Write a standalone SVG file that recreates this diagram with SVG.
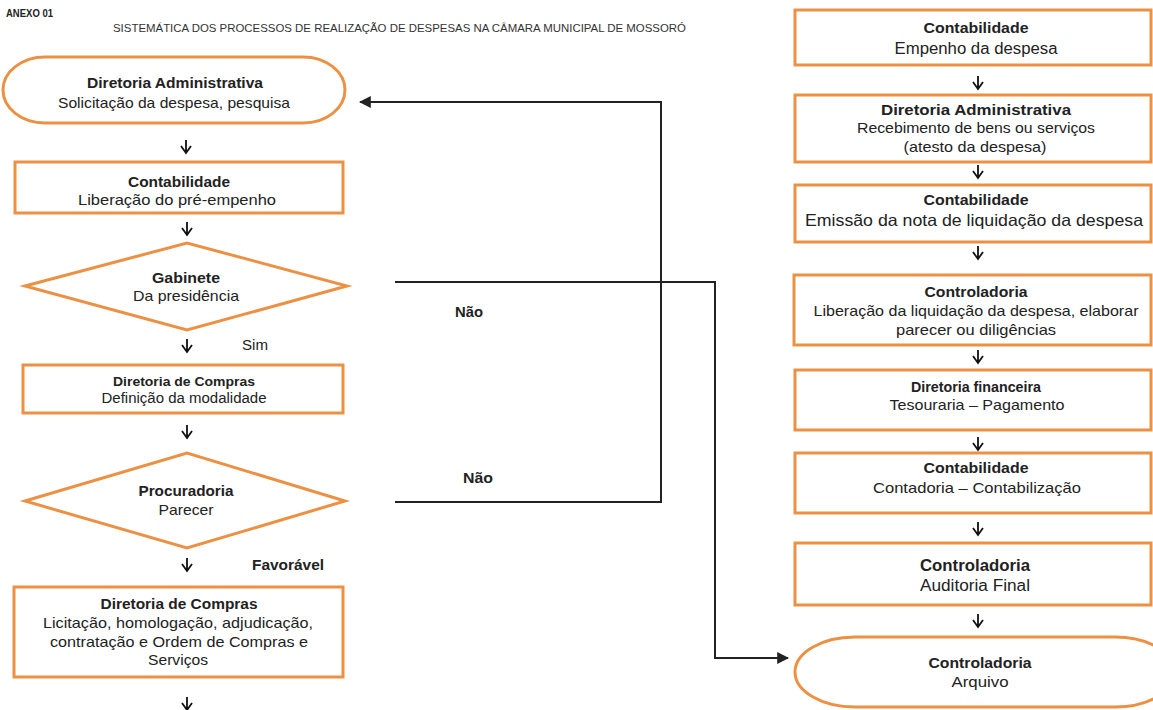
<svg xmlns="http://www.w3.org/2000/svg" width="1153" height="710" viewBox="0 0 1153 710">
<style>
.box{fill:#fff;stroke:#EC9144;stroke-width:3}
.t{font-family:"Liberation Sans",Arial,sans-serif;fill:#222;text-anchor:middle;font-size:15px}
.b{font-weight:bold;font-size:14.5px}
.lbl{font-family:"Liberation Sans",Arial,sans-serif;font-weight:bold;fill:#222;font-size:14px}
.con{fill:none;stroke:#222;stroke-width:2}
.dn{fill:none;stroke:#111;stroke-width:1.8}
</style>
<defs>
<marker id="ah" viewBox="0 0 10 10" refX="9" refY="5" markerWidth="6" markerHeight="6" orient="auto">
<path d="M0,0 L10,5 L0,10 z" fill="#222"/>
</marker>
</defs>
<rect width="1153" height="710" fill="#fff"/>
<text x="6" y="17" font-family="Liberation Sans, Arial, sans-serif" font-size="10" font-weight="bold" fill="#222" textLength="47" lengthAdjust="spacingAndGlyphs">ANEXO 01</text>
<text x="113" y="32" font-family="Liberation Sans, Arial, sans-serif" font-size="10.5" fill="#333" textLength="573" lengthAdjust="spacingAndGlyphs">SISTEMÁTICA DOS PROCESSOS DE REALIZAÇÃO DE DESPESAS NA CÂMARA MUNICIPAL DE MOSSORÓ</text>

<g id="n1"><rect class="box" x="3" y="57" width="342" height="66" rx="42" ry="33"/>
<text class="t b" x="175" y="88" textLength="176" lengthAdjust="spacingAndGlyphs">Diretoria Administrativa</text>
<text class="t" x="174" y="108" textLength="232" lengthAdjust="spacingAndGlyphs">Solicitação da despesa, pesquisa</text></g>

<g id="n2"><rect class="box" x="15" y="162" width="328" height="51"/>
<text class="t b" x="179" y="187" textLength="102" lengthAdjust="spacingAndGlyphs">Contabilidade</text>
<text class="t" x="177" y="205" textLength="198" lengthAdjust="spacingAndGlyphs">Liberação do pré-empenho</text></g>

<g id="n3"><polygon class="box" points="25,286 187,243 347,286 187,330"/>
<text class="t b" x="186" y="283" textLength="68" lengthAdjust="spacingAndGlyphs">Gabinete</text>
<text class="t" x="186" y="301" textLength="106" lengthAdjust="spacingAndGlyphs">Da presidência</text></g>

<g id="n4"><rect class="box" x="23" y="365" width="320" height="48"/>
<text class="t b" x="184" y="386" style="font-size:13px" textLength="142" lengthAdjust="spacingAndGlyphs">Diretoria de Compras</text>
<text class="t" x="184" y="403" style="font-size:14px" textLength="165" lengthAdjust="spacingAndGlyphs">Definição da modalidade</text></g>

<g id="n5"><polygon class="box" points="25,501 187,453 345,501 187,548"/>
<text class="t b" x="186" y="496" textLength="95" lengthAdjust="spacingAndGlyphs">Procuradoria</text>
<text class="t" x="186" y="515" textLength="55" lengthAdjust="spacingAndGlyphs">Parecer</text></g>

<g id="n6"><rect class="box" x="14" y="587" width="329" height="90"/>
<text class="t b" x="179" y="609" textLength="157" lengthAdjust="spacingAndGlyphs">Diretoria de Compras</text>
<text class="t" x="178" y="628" textLength="270" lengthAdjust="spacingAndGlyphs">Licitação, homologação, adjudicação,</text>
<text class="t" x="179" y="647" textLength="258" lengthAdjust="spacingAndGlyphs">contratação e Ordem de Compras e</text>
<text class="t" x="178" y="665" textLength="60" lengthAdjust="spacingAndGlyphs">Serviços</text></g>

<g id="n7"><rect class="box" x="795" y="10" width="356" height="55"/>
<text class="t b" x="976" y="33" textLength="105" lengthAdjust="spacingAndGlyphs">Contabilidade</text>
<text class="t" x="976" y="54" style="font-size:16px" textLength="163" lengthAdjust="spacingAndGlyphs">Empenho da despesa</text></g>

<g id="n8"><rect class="box" x="795" y="95" width="356" height="67"/>
<text class="t b" x="976" y="115" textLength="190" lengthAdjust="spacingAndGlyphs">Diretoria Administrativa</text>
<text class="t" x="976" y="133" textLength="238" lengthAdjust="spacingAndGlyphs">Recebimento de bens ou serviços</text>
<text class="t" x="975" y="152" textLength="143" lengthAdjust="spacingAndGlyphs">(atesto da despesa)</text></g>

<g id="n9"><rect class="box" x="795" y="185" width="356" height="57"/>
<text class="t b" x="976" y="205" textLength="105" lengthAdjust="spacingAndGlyphs">Contabilidade</text>
<text class="t" x="974" y="226" style="font-size:16.5px" textLength="338" lengthAdjust="spacingAndGlyphs">Emissão da nota de liquidação da despesa</text></g>

<g id="n10"><rect class="box" x="794" y="275" width="357" height="70"/>
<text class="t b" x="976" y="297" textLength="103" lengthAdjust="spacingAndGlyphs">Controladoria</text>
<text class="t" x="976" y="316" textLength="325" lengthAdjust="spacingAndGlyphs">Liberação da liquidação da despesa, elaborar</text>
<text class="t" x="976" y="335" textLength="160" lengthAdjust="spacingAndGlyphs">parecer ou diligências</text></g>

<g id="n11"><rect class="box" x="795" y="370" width="356" height="60"/>
<text class="t b" x="976" y="392" textLength="130" lengthAdjust="spacingAndGlyphs">Diretoria financeira</text>
<text class="t" x="977" y="410" textLength="175" lengthAdjust="spacingAndGlyphs">Tesouraria – Pagamento</text></g>

<g id="n12"><rect class="box" x="795" y="453" width="356" height="60"/>
<text class="t b" x="976" y="473" textLength="105" lengthAdjust="spacingAndGlyphs">Contabilidade</text>
<text class="t" x="977" y="493" textLength="208" lengthAdjust="spacingAndGlyphs">Contadoria – Contabilização</text></g>

<g id="n13"><rect class="box" x="795" y="543" width="356" height="62"/>
<text class="t b" x="975" y="571" style="font-size:16px" textLength="110" lengthAdjust="spacingAndGlyphs">Controladoria</text>
<text class="t" x="975" y="591" style="font-size:16px" textLength="110" lengthAdjust="spacingAndGlyphs">Auditoria Final</text></g>

<g id="n14"><rect class="box" x="795" y="637" width="380" height="70" rx="60" ry="35"/>
<text class="t b" x="980" y="668" textLength="103" lengthAdjust="spacingAndGlyphs">Controladoria</text>
<text class="t" x="980" y="687" textLength="57" lengthAdjust="spacingAndGlyphs">Arquivo</text></g>

<g id="connectors">
<path class="dn" d="M186,140 V153 M181,146 L186,153 L191,146"/>
<path class="dn" d="M187,222 V235 M182,228 L187,235 L192,228"/>
<path class="dn" d="M187,339 V352 M182,345 L187,352 L192,345"/>
<path class="dn" d="M187,425 V438 M182,431 L187,438 L192,431"/>
<path class="dn" d="M187,558 V571 M182,564 L187,571 L192,564"/>
<path class="dn" d="M187,697 V710 M182,703 L187,710 L192,703"/>
<path class="dn" d="M978,76 V89 M973,82 L978,89 L983,82"/>
<path class="dn" d="M978,165 V178 M973,171 L978,178 L983,171"/>
<path class="dn" d="M978,246 V259 M973,252 L978,259 L983,252"/>
<path class="dn" d="M978,350 V363 M973,356 L978,363 L983,356"/>
<path class="dn" d="M978,437 V450 M973,443 L978,450 L983,443"/>
<path class="dn" d="M978,522 V535 M973,528 L978,535 L983,528"/>
<path class="dn" d="M978,614 V627 M973,620 L978,627 L983,620"/>
<polyline class="con" points="395,502 661,502 661,102 360,102" marker-end="url(#ah)"/>
<polyline class="con" points="395,282 715,282 715,658 788,658" marker-end="url(#ah)"/>
<text class="lbl" x="455" y="317" textLength="28" lengthAdjust="spacingAndGlyphs">Não</text>
<text class="lbl" x="463" y="483" textLength="30" lengthAdjust="spacingAndGlyphs">Não</text>
<text x="242" y="350" style="font-family:'Liberation Sans',Arial,sans-serif;font-size:14px;fill:#222" textLength="26" lengthAdjust="spacingAndGlyphs">Sim</text>
<text x="252" y="570" style="font-family:'Liberation Sans',Arial,sans-serif;font-size:14.5px;font-weight:bold;fill:#222" textLength="72" lengthAdjust="spacingAndGlyphs">Favorável</text>
</g>
</svg>
